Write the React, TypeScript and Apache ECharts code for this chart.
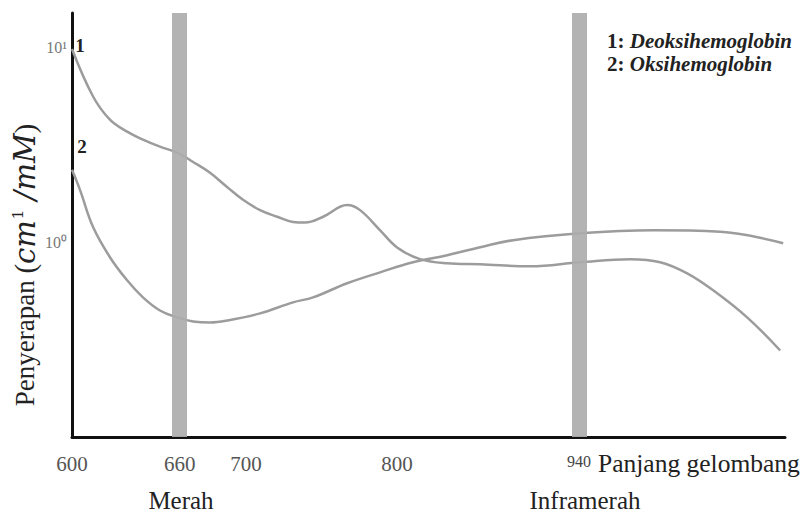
import React, { useEffect, useRef } from "react";
import * as echarts from "echarts";

// Curve 1: Deoksihemoglobin (wavelength nm, absorption cm^-1/mM)
const wavelengths1 = [600, 611.3, 620.5, 630, 638.9, 648.6, 658.5, 667.9, 678, 688.3, 698.1, 708.7, 719.5, 729.7, 737.5, 749.4, 765.5, 774.3, 788.2, 800.1, 816.6, 836.4, 861.2, 900.2, 940.9, 983.5, 1010, 1034.4, 1058.5, 1090.8, 1123.2];
const absorb1 = [9.8, 5.59, 4.25, 3.69, 3.36, 3.09, 2.88, 2.58, 2.27, 1.92, 1.65, 1.46, 1.35, 1.27, 1.26, 1.35, 1.55, 1.46, 1.15, 0.94, 0.818, 0.779, 0.77, 0.752, 0.789, 0.818, 0.789, 0.692, 0.566, 0.411, 0.278];

// Curve 2: Oksihemoglobin
const wavelengths2 = [600, 604.3, 611.3, 620.5, 630, 638.9, 648.6, 658.5, 667.9, 678, 688.3, 708.7, 729.7, 742.8, 765.5, 788.2, 811.5, 836.4, 861.2, 886.7, 940.9, 1003.7, 1065.1, 1126.2];
const absorb2 = [2.35, 1.85, 1.195, 0.837, 0.637, 0.521, 0.446, 0.411, 0.392, 0.387, 0.396, 0.431, 0.491, 0.521, 0.615, 0.7, 0.789, 0.857, 0.942, 1.024, 1.11, 1.15, 1.13, 0.988];

const xTicks = [600, 660, 700, 800, 940];
const yTicks = [1, 10];
const yTickLabels = ["10⁰", "10¹"];
const bandWavelengths = [660, 940];

const SERIF = "'Liberation Serif', 'Times New Roman', serif";
const MATH = "'DejaVu Serif', serif";

export default function App() {
  const ref = useRef<HTMLDivElement>(null);
  useEffect(() => {
    if (!ref.current) return;
    const chart = echarts.init(ref.current, null, { renderer: "svg" });
    const option: any = {
      animation: false,
      backgroundColor: "#ffffff",
      grid: { left: 72, right: 19, top: 13, bottom: 77, containLabel: false },
      xAxis: {
        type: "log",
        logBase: 10,
        min: 600,
        max: 1128,
        axisLine: { show: true, onZero: false, lineStyle: { color: "#111", width: 3 } },
        axisTick: { show: false },
        minorTick: { show: false },
        splitLine: { show: false },
        axisLabel: {
          customValues: xTicks,
          color: "#555",
          fontFamily: SERIF,
          fontSize: 21,
          margin: 16,
          formatter: (v: number) => (Math.round(v) === 940 ? "{s|940}" : "{n|" + Math.round(v) + "}"),
          rich: {
            n: { fontSize: 21, color: "#555", fontFamily: SERIF },
            s: { fontSize: 16, color: "#444", fontFamily: SERIF, padding: [0, 0, 5, 0] },
          },
        },
      },
      yAxis: {
        type: "log",
        logBase: 10,
        min: 0.1,
        max: 15,
        axisLine: { show: true, onZero: false, lineStyle: { color: "#111", width: 3 } },
        axisTick: { show: false },
        minorTick: { show: false },
        splitLine: { show: false },
        axisLabel: {
          customValues: yTicks,
          color: "#777",
          fontFamily: SERIF,
          fontSize: 16,
          margin: 5,
          formatter: (v: number) => yTickLabels[yTicks.indexOf(Math.round(v))] || "",
        },
      },
      series: [
        {
          type: "line",
          name: "Deoksihemoglobin",
          data: wavelengths1.map((w, i) => [w, absorb1[i]]),
          smooth: 0.4,
          showSymbol: false,
          lineStyle: { color: "#9c9c9c", width: 2.5 },
          z: 2,
        },
        {
          type: "line",
          name: "Oksihemoglobin",
          data: wavelengths2.map((w, i) => [w, absorb2[i]]),
          smooth: 0.4,
          showSymbol: false,
          lineStyle: { color: "#9c9c9c", width: 2.5 },
          z: 2,
        },
        {
          type: "line",
          data: [],
          z: 5,
          markLine: {
            silent: true,
            symbol: ["none", "none"],
            label: { show: false },
            lineStyle: { color: "#adadad", width: 15, type: "solid", opacity: 0.92 },
            data: bandWavelengths.map((w) => ({ xAxis: w })),
          },
        },
      ],
      graphic: [
        {
          type: "text",
          x: 25,
          y: 265,
          rotation: Math.PI / 2,
          style: {
            text: "{a|Penyerapan }{p|(}{b|cm}{c|1}{b| /mM}{p|)}",
            align: "center",
            verticalAlign: "middle",
            rich: {
              a: { fontFamily: SERIF, fontSize: 27, fill: "#222", color: "#222" },
              p: { fontFamily: SERIF, fontSize: 29, fill: "#222", color: "#222" },
              b: { fontFamily: MATH, fontSize: 29, fontStyle: "italic", fill: "#222", color: "#222" },
              c: { fontFamily: MATH, fontSize: 15, fill: "#222", color: "#222", padding: [0, 0, 14, 1] },
            },
          },
        },
        {
          type: "text",
          x: 80,
          y: 45,
          style: { text: "1", fontFamily: SERIF, fontSize: 19, fontWeight: "bold", fill: "#222", align: "center", verticalAlign: "middle" },
        },
        {
          type: "text",
          x: 82,
          y: 146,
          style: { text: "2", fontFamily: SERIF, fontSize: 19, fontWeight: "bold", fill: "#222", align: "center", verticalAlign: "middle" },
        },
        {
          type: "text",
          x: 607,
          y: 41,
          style: {
            text: "{n|1: }{i|Deoksihemoglobin}",
            verticalAlign: "middle",
            rich: {
              n: { fontFamily: SERIF, fontSize: 21, fontWeight: "bold", fill: "#222", color: "#222" },
              i: { fontFamily: SERIF, fontSize: 21, fontWeight: "bold", fontStyle: "italic", fill: "#222", color: "#222" },
            },
          },
        },
        {
          type: "text",
          x: 607,
          y: 64,
          style: {
            text: "{n|2: }{i|Oksihemoglobin}",
            verticalAlign: "middle",
            rich: {
              n: { fontFamily: SERIF, fontSize: 21, fontWeight: "bold", fill: "#222", color: "#222" },
              i: { fontFamily: SERIF, fontSize: 21, fontWeight: "bold", fontStyle: "italic", fill: "#222", color: "#222" },
            },
          },
        },
        {
          type: "text",
          x: 598,
          y: 463,
          style: { text: "Panjang gelombang", fontFamily: SERIF, fontSize: 25.5, fill: "#222", verticalAlign: "middle" },
        },
        {
          type: "text",
          x: 181,
          y: 500,
          style: { text: "Merah", fontFamily: SERIF, fontSize: 25, fill: "#222", align: "center", verticalAlign: "middle" },
        },
        {
          type: "text",
          x: 585,
          y: 500,
          style: { text: "Inframerah", fontFamily: SERIF, fontSize: 25, fill: "#222", align: "center", verticalAlign: "middle" },
        },
      ],
    };
    chart.setOption(option);
    return () => chart.dispose();
  }, []);
  return (
    <div
      ref={ref}
      style={{ position: "fixed", left: 0, top: 0, width: 804, height: 514, background: "#fff" }}
    />
  );
}
